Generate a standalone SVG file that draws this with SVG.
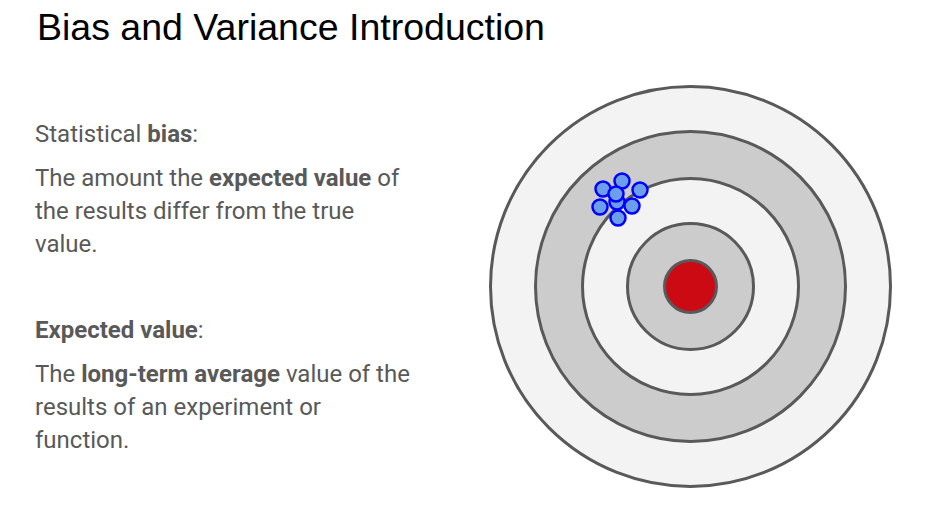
<svg xmlns="http://www.w3.org/2000/svg" width="950" height="531" viewBox="0 0 950 531">
  <style>
    .title { font-family: "Liberation Sans", Arial, sans-serif; font-size: 37.5px; fill: #000000; }
    .body { font-family: Roboto, "Noto Sans", sans-serif; font-size: 24px; fill: #595959; }
    .b { font-weight: bold; }
    .ring { stroke: #595959; stroke-width: 3; }
    .light { fill: #f3f3f3; }
    .mid { fill: #cccccc; }
    .shot { fill: #6d9eeb; stroke: #0000ff; stroke-width: 2.5; }
  </style>
  <rect width="950" height="531" fill="#ffffff"/>

  <text class="title" x="37" y="40">Bias and Variance Introduction</text>

  <g id="bias-definition">
    <text class="body" x="35" y="142">Statistical <tspan class="b">bias</tspan>:</text>
    <text class="body" x="35" y="186">The amount the <tspan class="b">expected value</tspan> of</text>
    <text class="body" x="35" y="219">the results differ from the true</text>
    <text class="body" x="35" y="252">value.</text>
  </g>

  <g id="expected-value-definition">
    <text class="body" x="35" y="338"><tspan class="b">Expected value</tspan>:</text>
    <text class="body" x="35" y="382">The <tspan class="b">long-term average</tspan> value of the</text>
    <text class="body" x="35" y="415">results of an experiment or</text>
    <text class="body" x="35" y="448">function.</text>
  </g>

  <g id="target">
    <circle class="ring light" cx="690.5" cy="286.5" r="200"/>
    <circle class="ring mid" cx="690.5" cy="286.5" r="155"/>
    <circle class="ring light" cx="690.5" cy="286.5" r="108"/>
    <circle class="ring mid" cx="690.5" cy="286.5" r="63"/>
    <circle class="ring" cx="690.5" cy="286.5" r="26" fill="#cc0a14"/>
  </g>

  <g id="shots">
    <circle class="shot" cx="617" cy="202" r="7.5"/>
    <circle class="shot" cx="603" cy="189" r="7.5"/>
    <circle class="shot" cx="622" cy="181" r="7.5"/>
    <circle class="shot" cx="640" cy="190" r="7.5"/>
    <circle class="shot" cx="600" cy="207" r="7.5"/>
    <circle class="shot" cx="632" cy="206" r="7.5"/>
    <circle class="shot" cx="618" cy="218" r="7.5"/>
    <circle class="shot" cx="616" cy="194" r="7.5"/>
  </g>
</svg>
